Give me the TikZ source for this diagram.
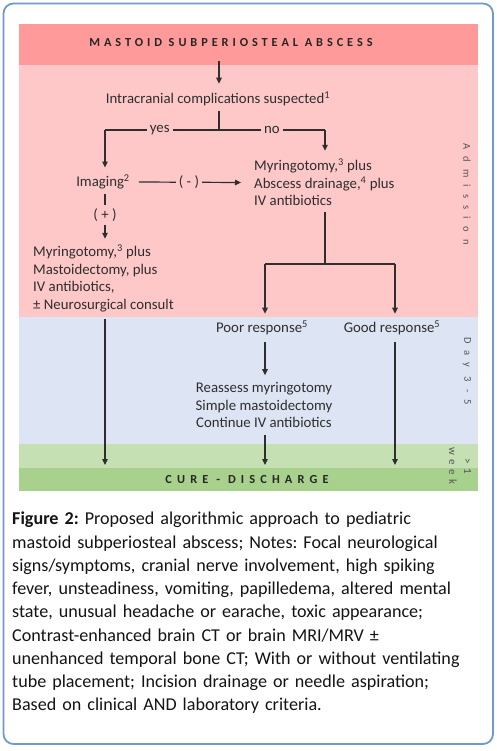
\documentclass[tikz,border=0pt]{standalone}
\usepackage{fontspec}
\setmainfont{Carlito}
\usetikzlibrary{arrows.meta}
\definecolor{framecol}{HTML}{6F9BC8}
\definecolor{titlepink}{HTML}{FF9A9A}
\definecolor{admpink}{HTML}{FFC8C8}
\definecolor{dayblue}{HTML}{DDE4F3}
\definecolor{wkgreen}{HTML}{C5E0B3}
\definecolor{curegreen}{HTML}{A8D18D}
\definecolor{txt}{HTML}{2E2E2E}
\definecolor{sidetxt}{HTML}{555555}
\frenchspacing
\tikzset{
  flow/.style={line width=1.2pt, draw=txt},
  arr/.style={flow, -{Triangle[length=6pt,width=5.5pt]}},
  lbl/.style={font=\fontsize{14.8}{17.5}\selectfont, text=txt, inner sep=1pt},
  blk/.style={lbl, align=left},
  bandtitle/.style={font=\fontsize{12.3}{13}\selectfont\bfseries\addfontfeature{LetterSpace=32}, text=black!85, inner sep=0pt},
  side/.style={font=\fontsize{10.5}{10}\selectfont\addfontfeature{LetterSpace=68}, text=sidetxt, rotate=-90, inner sep=0pt},
  brk/.style={lbl, fill=admpink, inner xsep=3pt, inner ysep=0pt}
}
\begin{document}
\begin{tikzpicture}[x=1pt,y=-1pt]
\useasboundingbox (0,0) rectangle (497,751);
\fill[white] (0,0) rectangle (497,751);
\draw[framecol, line width=1.8pt, rounded corners=10pt] (3.5,3.5) rectangle (493,744);
% bands
\fill[titlepink] (19,24) rectangle (478,65);
\fill[admpink] (19,65) rectangle (478,317);
\fill[dayblue] (19,317) rectangle (478,444);
\fill[wkgreen] (19,444) rectangle (478,468);
\fill[curegreen] (19,468) rectangle (478,491);
% nodes
\node[bandtitle] (title) at (231,43) {MASTOID SUBPERIOSTEAL ABSCESS};
\node[lbl] (icc) at (218,99) {Intracranial complications suspected\textsuperscript{1}};
\coordinate (split) at (219,130);
\coordinate (yesc) at (105,130);
\coordinate (noc) at (325,130);
\node[lbl] (imaging) at (103,182) {Imaging\textsuperscript{2}};
\node[blk, anchor=west] (rbox) at (253,182.5) {Myringotomy,\textsuperscript{3} plus\\Abscess drainage,\textsuperscript{4} plus\\IV antibiotics};
\node[lbl, inner ysep=0pt] (plus) at (105,215) {( + )};
\node[blk, anchor=west] (lbox) at (32,278.5) {Myringotomy,\textsuperscript{3} plus\\Mastoidectomy, plus\\IV antibiotics,\\± Neurosurgical consult};
\coordinate (rsplit) at (325,264);
\coordinate (pc) at (265,264);
\coordinate (gc) at (395,264);
\node[lbl] (poor) at (262,328) {Poor response\textsuperscript{5}};
\node[lbl] (good) at (392,328) {Good response\textsuperscript{5}};
\node[lbl, align=center] (reas) at (264,405) {Reassess myringotomy\\Simple mastoidectomy\\Continue IV antibiotics};
\node[bandtitle, font=\fontsize{12.3}{13}\selectfont\bfseries\addfontfeature{LetterSpace=42}] (cure) at (247,480) {CURE - DISCHARGE};
\coordinate (cl) at (105,465);
\coordinate (cm) at (265,465);
\coordinate (cr) at (395,465);
% side labels
\node[side] (adm) at (467,194) {Admission};
\node[side] (day) at (467,371) {Day 3-5};
\node[side, align=center, font=\fontsize{11}{15}\selectfont\addfontfeature{LetterSpace=40}] (wk) at (460,466) {>1\\week};
% connectors
\draw[arr] ([yshift=-14pt]title.south -| split) -- ([yshift=7pt]icc.north -| split);
\draw[flow] ([yshift=-4pt]icc.south -| split) -- (split);
\draw[flow] (split) -- (yesc) node[brk, pos=0.52] (yes) {yes};
\draw[flow] (split) -- (noc) node[brk, pos=0.5] (no) {no};
\draw[arr] (yesc) -- ([yshift=6pt]imaging.north -| yesc);
\draw[arr] (noc) -- ([yshift=7pt]rbox.north -| noc);
\draw[arr] ([xshift=8pt]imaging.east) -- node[brk, pos=0.49] (neg) {( - )} ([xshift=-12pt]rbox.west);
\draw[flow] ([yshift=-4pt]imaging.south -| plus) -- ([yshift=3pt]plus.north);
\draw[arr] ([yshift=-3pt]plus.south) -- ([yshift=5pt]lbox.north -| plus);
\draw[flow] ([yshift=-5pt]rbox.south -| rsplit) -- (rsplit);
\draw[flow] (pc) -- (gc);
\draw[arr] (pc) -- ([yshift=6pt]poor.north -| pc);
\draw[arr] (gc) -- ([yshift=6pt]good.north -| gc);
\draw[arr] ([yshift=-6pt]poor.south -| pc) -- ([yshift=6pt]reas.north -| pc);
\draw[arr] ([yshift=-6pt]reas.south -| pc) -- (cm);
\draw[arr] ([yshift=-6pt]lbox.south -| cl) -- (cl);
\draw[arr] ([yshift=-6pt]good.south -| cr) -- (cr);
% caption
\node[anchor=north west, align=left, inner sep=0pt, text width=485pt,
      font=\fontsize{18.1}{23.25}\selectfont, text=black!92] (caption) at (12,512)
{\textbf{Figure 2:} Proposed algorithmic approach to pediatric\\
mastoid subperiosteal abscess; Notes: Focal neurological\\
signs/symptoms, cranial nerve involvement, high spiking\\
fever, unsteadiness, vomiting, papilledema, altered mental\\
state, unusual headache or earache, toxic appearance;\\
Contrast-enhanced brain CT or brain MRI/MRV ±\\
unenhanced temporal bone CT; With or without ventilating\\
tube placement; Incision drainage or needle aspiration;\\
Based on clinical AND laboratory criteria.};
\end{tikzpicture}
\end{document}
